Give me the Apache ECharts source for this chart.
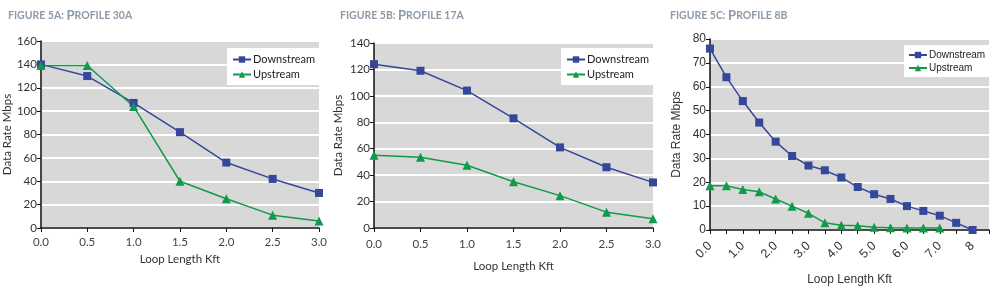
<!DOCTYPE html>
<html>
<head>
<meta charset="utf-8">
<script src="https://cdn.jsdelivr.net/npm/echarts@6/dist/echarts.min.js"></script>
<style>
  html, body { margin: 0; padding: 0; background: #fff; }
  #chart { width: 998px; height: 293px; }
</style>
</head>
<body>
<div id="chart"></div>
<script>
// loop length (kft) for profiles 30A / 17A
const xAB = [0, 0.5, 1.0, 1.5, 2.0, 2.5, 3.0]
// Profile 30A
const downA = [140, 130, 107, 82, 56, 42, 30]
const upA = [139, 139, 104, 40, 25, 11, 6]
// Profile 17A
const downB = [124, 119, 104, 83, 61, 46, 34.5]
const upB = [55, 53.5, 47.5, 35, 24.5, 12, 7]
// Profile 8B
const xC = [0, 0.5, 1.0, 1.5, 2.0, 2.5, 3.0, 3.5, 4.0, 4.5, 5.0, 5.5, 6.0, 6.5, 7.0, 7.5, 8.0]
const downC = [76, 64, 54, 45, 37, 31, 27, 25, 22, 18, 15, 13, 10, 8, 6, 3, 0]
const upC = [18.5, 18.5, 17, 16, 13, 10, 7, 3, 2, 1.8, 1.2, 0.9, 0.8, 0.8, 0.8]

const titles = [
  ['FIGURE 5A: ', 'P', 'ROFILE 30A'],
  ['FIGURE 5B: ', 'P', 'ROFILE 17A'],
  ['FIGURE 5C: ', 'P', 'ROFILE 8B']
]

const DOWN = '#34479a'
const UP = '#119a4a'
const pairs = (xs, ys) => ys.map((y, i) => [xs[i], y])

const chart = echarts.init(document.getElementById('chart'))

const myriad = 'Lato, "Open Sans", sans-serif'
const arial = '"Liberation Sans", Arial, sans-serif'

const titleOpt = (t, left) => ({
  left: left,
  top: 4,
  text: '{s|' + t[0] + '}{b|' + t[1] + '}{s|' + t[2] + '}',
  textStyle: {
    rich: {
      s: { fontSize: 10.5, fontWeight: 'bold', color: '#8d9aa8', fontFamily: myriad },
      b: { fontSize: 13, fontWeight: 'bold', color: '#8d9aa8', fontFamily: myriad }
    }
  }
})

const gridOpt = (left, top, width, bottom) => ({
  left: left, top: top, width: width, bottom: bottom,
  show: true, backgroundColor: '#d8d8d8', borderWidth: 0
})

const xAxisOpt = (idx, max, font, size, extra) => Object.assign({
  gridIndex: idx,
  type: 'value',
  min: 0,
  max: max,
  interval: 0.5,
  name: 'Loop Length Kft',
  nameLocation: 'middle',
  nameTextStyle: { color: '#333', fontSize: size, fontFamily: font },
  axisLine: { onZero: false, lineStyle: { color: '#111', width: 1.5 } },
  axisTick: { show: true, length: 4, lineStyle: { color: '#111' } },
  splitLine: { show: false },
  axisLabel: { color: '#444', fontSize: size, fontFamily: font, formatter: v => v.toFixed(1) }
}, extra)

const yAxisOpt = (idx, max, interval, font, size, nameGap) => ({
  gridIndex: idx,
  type: 'value',
  min: 0,
  max: max,
  interval: interval,
  name: 'Data Rate Mbps',
  nameLocation: 'middle',
  nameGap: nameGap,
  nameTextStyle: { color: '#333', fontSize: size, fontFamily: font },
  axisLine: { show: true, lineStyle: { color: '#111', width: 1.5 } },
  axisTick: { show: true, length: 4, lineStyle: { color: '#111' } },
  splitLine: { show: true, lineStyle: { color: '#fff', width: 2 } },
  axisLabel: { color: '#333', fontSize: size, fontFamily: font, margin: 4 }
})

const legendOpt = (left, top, font, size, pad, names) => ({
  left: left, top: top,
  orient: 'vertical',
  backgroundColor: '#fff',
  padding: pad,
  itemGap: 4,
  itemWidth: 18,
  itemHeight: 8,
  textStyle: { color: '#222', fontSize: size, fontFamily: font, padding: [0, 0, 0, -3] },
  data: names
})

const lineSeries = (name, idx, data, color, symbol) => ({
  name: name,
  type: 'line',
  xAxisIndex: idx,
  yAxisIndex: idx,
  data: data,
  symbol: symbol,
  symbolSize: symbol === 'rect' ? 8 : 9,
  showSymbol: true,
  lineStyle: { color: color, width: 1.5 },
  itemStyle: { color: color },
  animation: false
})

const option = {
  animation: false,
  title: [titleOpt(titles[0], 3), titleOpt(titles[1], 335), titleOpt(titles[2], 665)],
  grid: [
    gridOpt(37, 41, 282, 65),
    gridOpt(374, 43, 279, 65),
    gridOpt(710, 39, 279, 63)
  ],
  legend: [
    legendOpt(227, 48, myriad, 11, [6, 8, 5, 5], ['Downstream', 'Upstream']),
    legendOpt(561, 48, myriad, 11, [6, 8, 5, 5], ['Downstream ', 'Upstream ']),
    Object.assign(legendOpt(904, 45, arial, 10, [5, 6, 4, 4], ['Downstream  ', 'Upstream  ']), { itemGap: 3 })
  ],
  xAxis: [
    xAxisOpt(0, 3, myriad, 11.5, { nameGap: 24 }),
    xAxisOpt(1, 3, myriad, 11.5, { nameGap: 32, axisLabel: { color: '#444', fontSize: 11.5, fontFamily: myriad, margin: 10, formatter: v => v.toFixed(1) } }),
    xAxisOpt(2, 8.5, arial, 12, {
      nameGap: 44,
      axisLabel: {
        color: '#333', fontSize: 12.5, fontFamily: arial, rotate: 45, margin: 14,
        formatter: v => (v % 1 !== 0 || v > 8) ? '' : (v === 8 ? '8' : v.toFixed(1))
      }
    })
  ],
  yAxis: [
    yAxisOpt(0, 160, 20, myriad, 11.5, 25),
    yAxisOpt(1, 140, 20, myriad, 11.5, 30),
    yAxisOpt(2, 80, 10, arial, 12, 27)
  ],
  series: [
    lineSeries('Downstream', 0, pairs(xAB, downA), DOWN, 'rect'),
    lineSeries('Upstream', 0, pairs(xAB, upA), UP, 'triangle'),
    lineSeries('Downstream ', 1, pairs(xAB, downB), DOWN, 'rect'),
    lineSeries('Upstream ', 1, pairs(xAB, upB), UP, 'triangle'),
    lineSeries('Downstream  ', 2, pairs(xC, downC), DOWN, 'rect'),
    lineSeries('Upstream  ', 2, pairs(xC, upC), UP, 'triangle')
  ]
}

chart.setOption(option)
</script>
</body>
</html>
